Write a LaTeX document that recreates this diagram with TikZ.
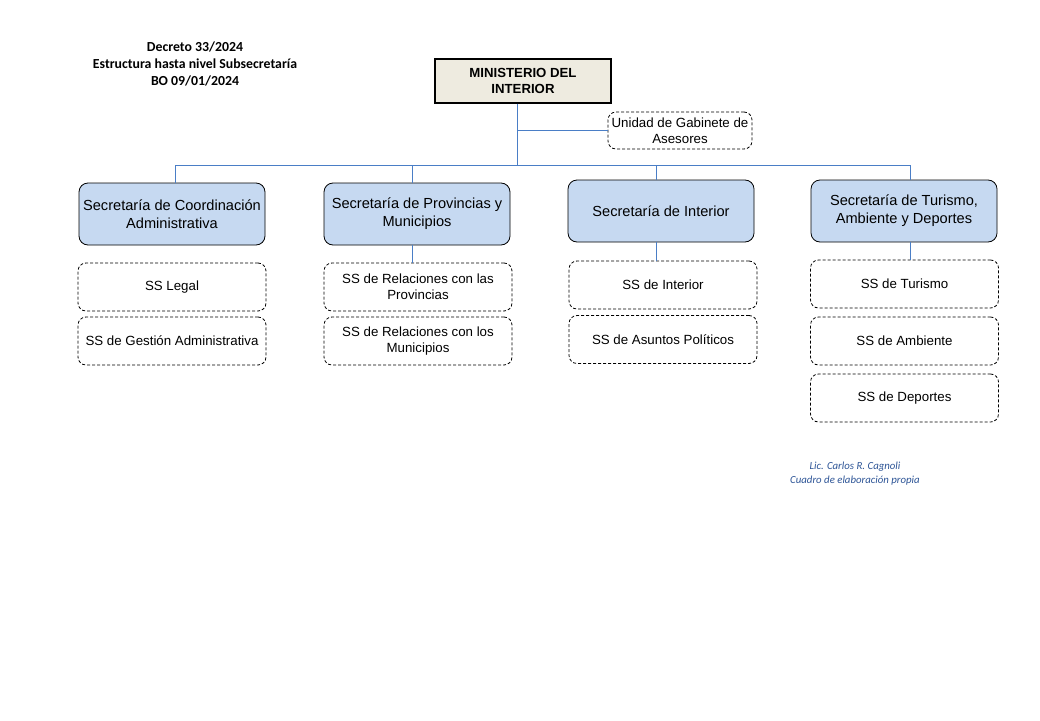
\documentclass[tikz,border=0pt]{standalone}
\usepackage{fontspec}
\setmainfont{Liberation Sans}
\newfontfamily\calibri{Carlito}
\definecolor{secblue}{HTML}{C6D9F1}
\definecolor{minbeige}{HTML}{EEEBE0}
\definecolor{linkblue}{HTML}{4A7EC6}
\definecolor{creditblue}{HTML}{2E5597}
\begin{document}
\begin{tikzpicture}[x=1pt,y=-1pt,
    sec/.style={draw,line width=0.8pt,rounded corners=9pt,fill=secblue,minimum width=186pt,minimum height=62pt,align=center,inner sep=1pt,font=\fontsize{14.6pt}{18pt}\selectfont},
    ss/.style={draw,line width=0.8pt,dash pattern=on 3pt off 2pt,rounded corners=8pt,minimum width=188pt,minimum height=48pt,align=center,inner sep=1pt,font=\fontsize{13.3pt}{16pt}\selectfont},
    link/.style={draw=linkblue,line width=0.9pt}]
    \fill[white] (0,0) rectangle (1040,720);

    \node[align=center,font=\calibri\bfseries\fontsize{13.8pt}{17pt}\selectfont] (title) at (195,64) {Decreto 33/2024\\Estructura hasta nivel Subsecretaría\\BO 09/01/2024};
    \node[align=center,text=creditblue,font=\calibri\itshape\fontsize{10.8pt}{14pt}\selectfont] (credit) at (855,474) {Lic. Carlos R. Cagnoli\\Cuadro de elaboración propia};

    \node[draw,line width=1.2pt,fill=minbeige,minimum width=176pt,minimum height=44pt,align=center,font=\bfseries\fontsize{13.2pt}{16pt}\selectfont] (MI) at (523,81) {MINISTERIO DEL\\INTERIOR};
    \node[ss,minimum width=144pt,minimum height=37pt] (UG) at (680,130.5) {Unidad de Gabinete de\\Asesores};

    \foreach \i/\x/\y/\t in {1/172/214/{Secretaría de Coordinación\\Administrativa},
                            2/417/214/{Secretaría de Provincias y\\Municipios},
                            3/661/211/{Secretaría de Interior},
                            4/904/211/{Secretaría de Turismo,\\Ambiente y Deportes}} {
        \node[sec] (S\i) at (\x,\y) {\t};
    }

    \foreach \n/\x/\y/\t in {A1/172/287/{SS Legal},
                            A2/172/341/{SS de Gestión Administrativa},
                            B1/418/287/{SS de Relaciones con las\\Provincias},
                            B2/418/341/{SS de Relaciones con los\\Municipios},
                            C1/663/285/{SS de Interior},
                            C2/663/339.5/{SS de Asuntos Políticos},
                            D1/904.5/284/{SS de Turismo},
                            D2/904.5/341/{SS de Ambiente},
                            D3/904.5/398/{SS de Deportes}} {
        \node[ss] (\n) at (\x,\y) {\t};
    }

    % lines
    \coordinate (bus) at ([xshift=-6pt]MI.south |- 0,165);
    \draw[link] ([xshift=-6pt]MI.south) -- (bus);
    \draw[link] (bus |- UG.west) -- (UG.west);
    \foreach \i/\d in {1/3, 2/-5, 3/-5, 4/6} {
        \coordinate (top\i) at ([xshift=\d pt]S\i.north);
        \draw[link] (top\i |- bus) -- (top\i);
    }
    \draw[link] (top1 |- bus) -- (top4 |- bus);
    \draw[link] ([xshift=-5pt]S2.south) -- ([xshift=-6pt]B1.north);
    \draw[link] ([xshift=-5pt]S3.south) -- ([xshift=-7pt]C1.north);
    \draw[link] ([xshift=6pt]S4.south) -- ([xshift=5.5pt]D1.north);
\end{tikzpicture}
\end{document}
